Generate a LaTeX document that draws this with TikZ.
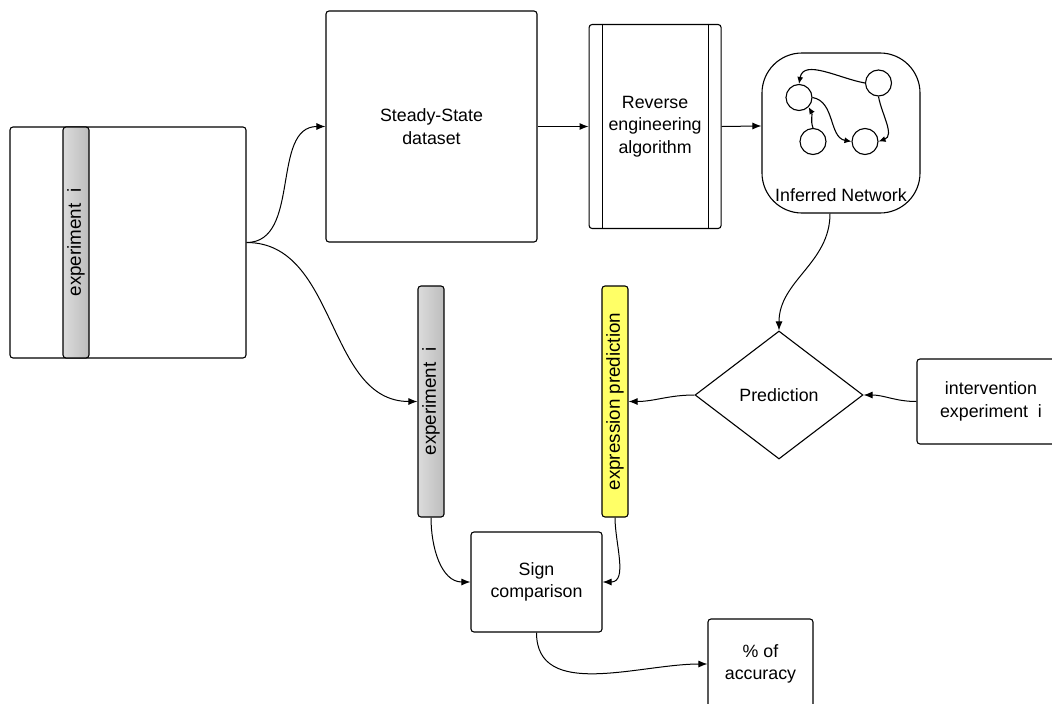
\documentclass[tikz,border=0pt]{standalone}
\usepackage{fontspec}
\setmainfont{Liberation Sans}
\usetikzlibrary{arrows.meta,positioning,shapes.geometric}

\begin{document}
\begin{tikzpicture}[x=1pt, y=-1pt,
  font=\fontsize{17.8}{22.5}\selectfont,
  box/.style={draw, fill=white, line width=1.1pt, rounded corners=3pt, align=center, inner sep=0pt},
  bar/.style={draw, line width=1.1pt, rounded corners=3pt, rotate=90, inner sep=0pt,
              minimum width=231pt, minimum height=26pt, font=\fontsize{18.8}{22}\selectfont},
  greybar/.style={bar, left color=black!14, right color=black!26},
  yellowbar/.style={bar, fill={rgb,255:red,255;green,255;blue,102}},
  arrow/.style={-{Latex[length=9pt,width=7pt]}, line width=1pt},
  dot/.style={circle, draw, line width=1.1pt, minimum size=26pt, inner sep=0pt},
  tiny/.style={-{Latex[length=7pt,width=6pt]}, line width=1.1pt}]
\useasboundingbox (0,0) rectangle (1052,704);
% top row
\node[box, minimum width=236pt, minimum height=231pt] (exp) at (128,242.5) {};
\node[greybar] (expbar) at (76,242.5) {experiment\ \ i};
\node[box, minimum width=211pt, minimum height=231pt] (ss) at (431.5,126.5) {Steady-State\\dataset};
\node[box, minimum width=132pt, minimum height=204pt, right=51pt of ss] (rev) {Reverse\\engineering\\algorithm};
\draw[line width=1.1pt] ([xshift=14pt]rev.north west) -- ([xshift=14pt]rev.south west);
\draw[line width=1.1pt] ([xshift=-13pt]rev.north east) -- ([xshift=-13pt]rev.south east);
\node[box, rounded corners=40pt, minimum width=158pt, minimum height=160pt] (net) at (841,133) {};
\node[above=12pt of net.south, inner sep=0pt] (netlbl) {Inferred Network};
% small network inside
\node[dot] (c1) at (799,97.5) {};
\node[dot] (c2) at (878.5,83) {};
\node[dot] (c3) at (813,141.5) {};
\node[dot] (c4) at (865,141.5) {};
\draw[tiny] (c2.west) to[out=170, in=80] (c1.north);
\draw[tiny] (c3.north) to[out=110, in=-60] (c1.south east);
\draw[tiny] (c1.east) to[out=-10, in=170] (c4.west);
\draw[tiny] (c2.south) to[out=-80, in=20] (c4.east);
% prediction part
\node[diamond, draw, fill=white, line width=1.1pt, inner sep=0pt, minimum width=168pt, minimum height=128pt] (pred) at (779,395) {Prediction};
\node[box, minimum width=148pt, minimum height=85pt] (intv) at (991,401.5) {intervention\\experiment\ \ i};
\node[greybar] (expbar2) at (431,401.5) {experiment\ \ i};
\node[yellowbar] (exprbar) at (615,401.5) {expression prediction};
\node[box, minimum width=131pt, minimum height=100pt] (sign) at (536.5,582) {Sign\\comparison};
\node[box, minimum width=105pt, minimum height=90pt] (acc) at (760.5,664) {\% of\\accuracy};
% connectors
\draw[arrow] (exp.east) to[out=0, in=180] (ss.west);
\draw[arrow] (exp.east) to[out=0, in=180] (expbar2.north);
\draw[arrow] (ss.east) -- (rev.west);
\draw[arrow] (rev.east) to[out=0, in=180] ([yshift=7pt]net.west);
\draw[arrow] ([xshift=-11pt]net.south) to[out=-90, in=90] (pred.north);
\draw[arrow] (intv.west) to[out=180, in=0] (pred.east);
\draw[arrow] (pred.west) to[out=180, in=0] (exprbar.south);
\draw[arrow] (expbar2.west) to[out=-90, in=180] (sign.west);
\draw[arrow] (exprbar.west) to[out=-90, in=0] (sign.east);
\draw[arrow] (sign.south) to[out=-90, in=180] (acc.west);
\end{tikzpicture}
\end{document}
